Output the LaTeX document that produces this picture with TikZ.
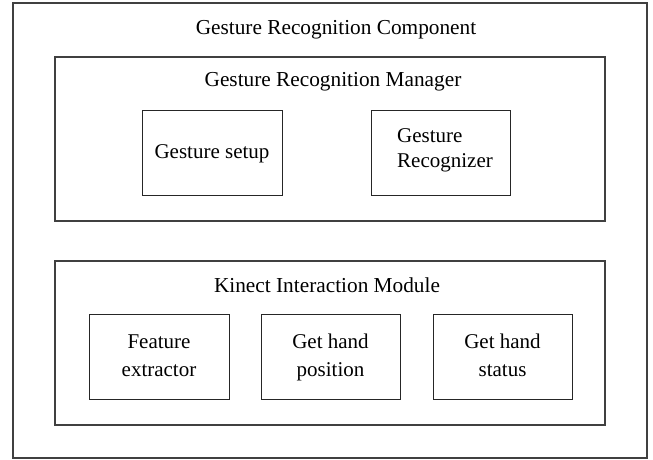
\documentclass[tikz,border=0pt]{standalone}
\usepackage{fontspec}
\setmainfont{Liberation Serif}
\tikzset{
  frame/.style={draw=black!75, line width=1.1pt, inner sep=0pt},
  inbox/.style={draw=black!85, line width=0.9pt, inner sep=0pt},
  caption/.style={inner sep=0pt, font=\fontsize{21.3}{28}\selectfont},
  boxtext/.style={inner sep=0pt, font=\fontsize{21}{28}\selectfont}
}
\begin{document}
\begin{tikzpicture}[x=1pt,y=-1pt]
  \useasboundingbox (0,0) rectangle (653,459);
  % outer component frame
  \node[frame, minimum width=634pt, minimum height=455pt] (comp) at (330,230.5) {};
  \node[caption] (comptitle) at (336,30) {Gesture Recognition Component};
  % manager group
  \node[frame, minimum width=550pt, minimum height=164pt] (mgr) at (330,139) {};
  \node[caption] (mgrtitle) at (333,82) {Gesture Recognition Manager};
  \node[inbox, minimum width=140pt, minimum height=85pt] (setup) at (212,152.5) {};
  \node[boxtext] (setuptxt) at (setup) {\strut Gesture setup};
  \node[inbox, minimum width=139pt, minimum height=85pt] (recog) at (440.5,152.5) {};
  \node[boxtext, align=left, font=\fontsize{21}{25}\selectfont] (recogtxt) at (445,149.5) {\strut Gesture\\\strut Recognizer};
  % kinect group
  \node[frame, minimum width=550pt, minimum height=164pt] (kin) at (330,343) {};
  \node[caption] (kintitle) at (327,285) {Kinect Interaction Module};
  \node[inbox, minimum width=140pt, minimum height=85pt] (feat) at (159,356.5) {};
  \node[boxtext, align=center] (feattxt) at (feat) {\strut Feature\\\strut extractor};
  \node[inbox, minimum width=139pt, minimum height=85pt] (pos) at (330.5,356.5) {};
  \node[boxtext, align=center] (postxt) at (pos) {\strut Get hand\\\strut position};
  \node[inbox, minimum width=139pt, minimum height=85pt] (stat) at (502.5,356.5) {};
  \node[boxtext, align=center] (stattxt) at (stat) {\strut Get hand\\\strut status};
\end{tikzpicture}
\end{document}
